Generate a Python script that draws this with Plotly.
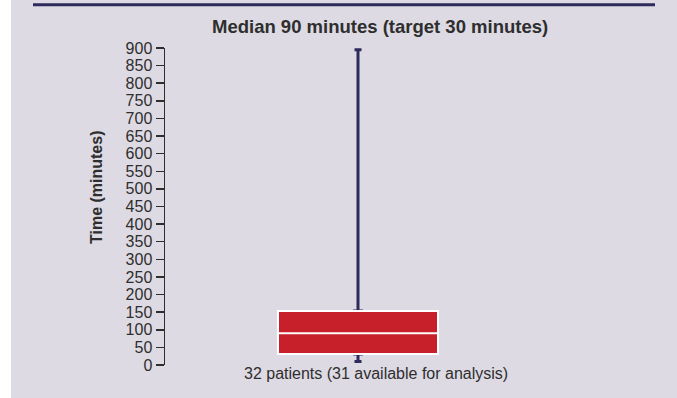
import plotly.graph_objects as go

# ---- data ----
group_x = [0]
q1_vals = [31]
median_vals = [90]
q3_vals = [153]
lower_vals = [10]
upper_vals = [895]
tick_vals = list(range(0, 901, 50))
tick_text = [str(v) for v in tick_vals]

title_text = "Median 90 minutes (target 30 minutes)"
y_title = "Time (minutes)"
x_label = "32 patients (31 available for analysis)"

NAVY = "#2d2a5c"
RED = "#c8202a"
BG = "#dddae3"
TXT = "#2e2e2e"
FONT = "Liberation Sans, Arial, sans-serif"

W, H = 677, 398
L, R, T, B = 165, 126, 48, 33
pw = W - L - R
ph = H - T - B

fig = go.Figure()

# whiskers (navy) - narrow box fully hidden under the main box
fig.add_trace(go.Box(
    x=group_x, q1=q1_vals, median=median_vals, q3=q3_vals,
    lowerfence=lower_vals, upperfence=upper_vals,
    width=7 / pw * 2, whiskerwidth=1,
    line=dict(color=NAVY, width=3), fillcolor=NAVY,
    boxpoints=False, hoverinfo="skip", showlegend=False,
))
# main box (red with white outline/median)
fig.add_trace(go.Box(
    x=group_x, q1=q1_vals, median=median_vals, q3=q3_vals,
    lowerfence=q1_vals, upperfence=q3_vals,
    width=160 / pw * 2, whiskerwidth=0,
    line=dict(color="white", width=2), fillcolor=RED,
    boxpoints=False, hoverinfo="skip", showlegend=False,
))

def px_x(p):
    return (p - L) / pw

def px_y(p):
    return (H - B - p) / ph

shapes = [
    # white strip on the left
    dict(type="rect", xref="paper", yref="paper",
         x0=px_x(0), x1=px_x(11), y0=px_y(H), y1=px_y(0),
         fillcolor="white", line=dict(width=0), layer="below"),
    # top navy rule
    dict(type="line", xref="paper", yref="paper",
         x0=px_x(33), x1=px_x(655), y0=px_y(4.8), y1=px_y(4.8),
         line=dict(color=NAVY, width=3)),
]

annotations = [
    dict(text="<b>" + title_text + "</b>", xref="paper", yref="paper",
         x=px_x(380), y=px_y(27), xanchor="center", yanchor="middle",
         showarrow=False, font=dict(family=FONT, size=18.5, color=TXT)),
    dict(text="<b>" + y_title + "</b>", xref="paper", yref="paper",
         x=px_x(96), y=px_y(187), xanchor="center", yanchor="middle",
         textangle=-90, showarrow=False,
         font=dict(family=FONT, size=16, color=TXT)),
    dict(text=x_label, xref="paper", yref="paper",
         x=px_x(376), y=px_y(373), xanchor="center", yanchor="middle",
         showarrow=False, font=dict(family=FONT, size=16, color=TXT)),
]

fig.update_layout(
    width=W, height=H,
    margin=dict(l=L, r=R, t=T, b=B, pad=0),
    paper_bgcolor=BG, plot_bgcolor=BG,
    showlegend=False,
    boxmode="overlay",
    shapes=shapes, annotations=annotations,
    xaxis=dict(range=[-1, 1], visible=False, fixedrange=True),
    yaxis=dict(range=[0, 900], tickmode="array", tickvals=tick_vals, ticktext=tick_text,
               showgrid=False, zeroline=False, showline=True,
               linecolor=TXT, linewidth=1.5,
               ticks="outside", ticklen=8, tickwidth=1.5, tickcolor=TXT,
               tickfont=dict(family=FONT, size=16, color=TXT),
               fixedrange=True),
)

fig.write_html("out.html",
               config={"displayModeBar": False, "staticPlot": True},
               post_script="document.body.style.margin='0';document.body.style.overflow='hidden';")
